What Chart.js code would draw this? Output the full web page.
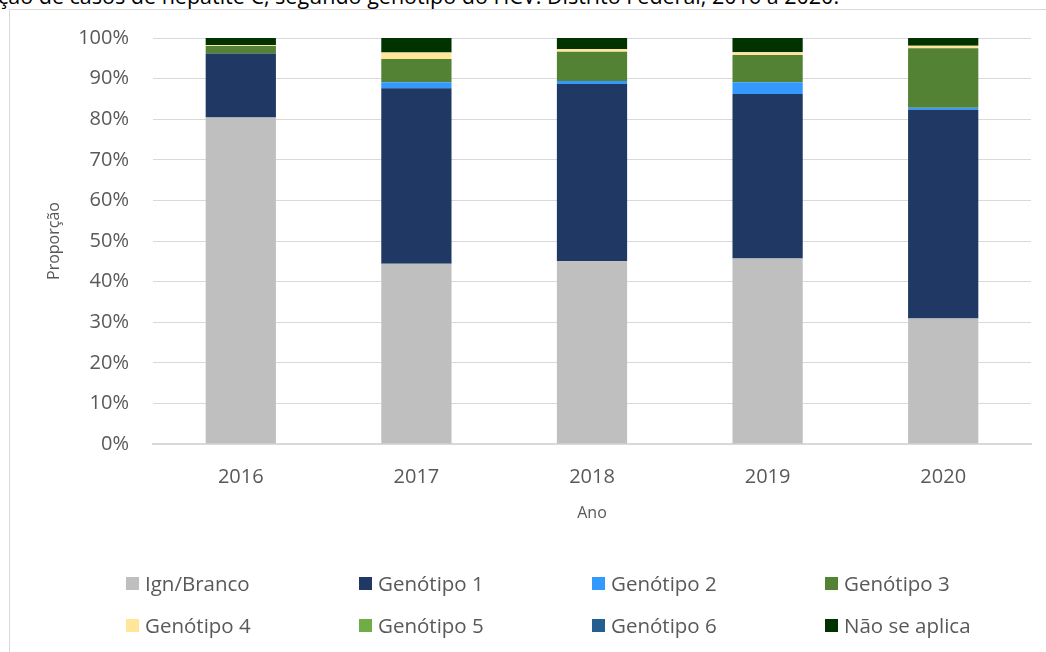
<!DOCTYPE html>
<html lang="pt">
<head>
<meta charset="utf-8">
<title>Genótipo do HCV</title>
<script src="https://cdn.jsdelivr.net/npm/chart.js@4"></script>
<style>
    html, body { margin: 0; padding: 0; background: #fff; }
    body { width: 1046px; height: 652px; position: relative; overflow: hidden; font-family: "Open Sans", sans-serif; }
    #titulo {
        position: absolute; left: -2px; top: -17px; white-space: nowrap;
        font-size: 21.5px; line-height: 26px; color: #000;
    }
    #moldura {
        position: absolute; left: 9px; top: 9px; width: 1100px; height: 700px;
        border: 1px solid #D9D9D9; box-sizing: border-box;
    }
    #grafico { position: absolute; left: 0; top: 0; }
    #legenda {
        position: absolute; left: 126px; top: 568px;
        display: grid; grid-template-columns: repeat(4, 233px); grid-auto-rows: 42px;
        font-size: 20.5px; color: #595959;
    }
    .item { display: flex; align-items: center; height: 30px; }
    .caixa { width: 13px; height: 13px; margin-right: 6px; flex: none; }
</style>
</head>
<body>
<div id="titulo">ção de casos de hepatite C, segundo genótipo do HCV. Distrito Federal, 2016 a 2020.</div>
<div id="moldura"></div>
<canvas id="grafico" width="1046" height="652"></canvas>
<div id="legenda"></div>
<script>
// Dados (proporção em %)
const anos = ['2016', '2017', '2018', '2019', '2020'];
const ignBranco = [80.4, 44.4, 45.0, 45.7, 30.9];
const genotipo1 = [15.8, 43.2, 43.7, 40.5, 51.4];
const genotipo2 = [0, 1.5, 0.7, 2.9, 0.5];
const genotipo3 = [1.8, 5.7, 7.2, 6.7, 14.7];
const genotipo4 = [0.3, 1.6, 0.7, 0.7, 0.6];
const genotipo5 = [0, 0, 0, 0, 0];
const genotipo6 = [0, 0, 0, 0, 0];
const naoSeAplica = [1.7, 3.6, 2.7, 3.5, 1.9];
const ticksY = [0, 10, 20, 30, 40, 50, 60, 70, 80, 90, 100];

const series = [
    { label: 'Ign/Branco', data: ignBranco, cor: '#BFBFBF' },
    { label: 'Genótipo 1', data: genotipo1, cor: '#1F3864' },
    { label: 'Genótipo 2', data: genotipo2, cor: '#3399FF' },
    { label: 'Genótipo 3', data: genotipo3, cor: '#548235' },
    { label: 'Genótipo 4', data: genotipo4, cor: '#FFE699' },
    { label: 'Genótipo 5', data: genotipo5, cor: '#70AD47' },
    { label: 'Genótipo 6', data: genotipo6, cor: '#255E91' },
    { label: 'Não se aplica', data: naoSeAplica, cor: '#003300' }
];

const corTexto = '#595959';
const corGrade = '#D9D9D9';

const chart = new Chart(document.getElementById('grafico'), {
    type: 'bar',
    data: {
        labels: anos,
        datasets: series.map(s => ({
            label: s.label,
            data: s.data,
            backgroundColor: s.cor,
            borderWidth: 0,
            categoryPercentage: 1,
            barPercentage: 0.4
        }))
    },
    options: {
        responsive: false,
        animation: false,
        layout: { padding: { left: 0, right: 15, top: 38, bottom: 118 } },
        plugins: {
            legend: { display: false },
            tooltip: { enabled: false }
        },
        scales: {
            x: {
                stacked: true,
                grid: { display: false, drawTicks: false },
                border: { color: corGrade, width: 2 },
                ticks: { color: corTexto, font: { family: 'Open Sans', size: 20 }, padding: 21 },
                title: {
                    display: true, text: 'Ano', color: corTexto,
                    font: { family: 'Open Sans', size: 16 }, padding: { top: 0, bottom: 11 }
                },
                afterFit: scale => { scale.height = 90; }
            },
            y: {
                stacked: true,
                min: 0,
                max: 100,
                afterBuildTicks: scale => { scale.ticks = ticksY.map(v => ({ value: v })); },
                grid: { color: corGrade, drawTicks: false },
                border: { display: false },
                ticks: {
                    color: corTexto, font: { family: 'Open Sans', size: 20 }, padding: 24,
                    callback: v => v + '%'
                },
                title: {
                    display: true, text: 'Proporção', color: corTexto,
                    font: { family: 'Open Sans', size: 16 }, padding: { top: 45, bottom: 0 }
                },
                afterFit: scale => { scale.width = 153; }
            }
        }
    }
});

// Legenda em grade de 4 colunas
const legenda = document.getElementById('legenda');
chart.data.datasets.forEach(ds => {
    const item = document.createElement('div');
    item.className = 'item';
    const caixa = document.createElement('span');
    caixa.className = 'caixa';
    caixa.style.background = ds.backgroundColor;
    const texto = document.createElement('span');
    texto.textContent = ds.label;
    item.appendChild(caixa);
    item.appendChild(texto);
    legenda.appendChild(item);
});
</script>
</body>
</html>
